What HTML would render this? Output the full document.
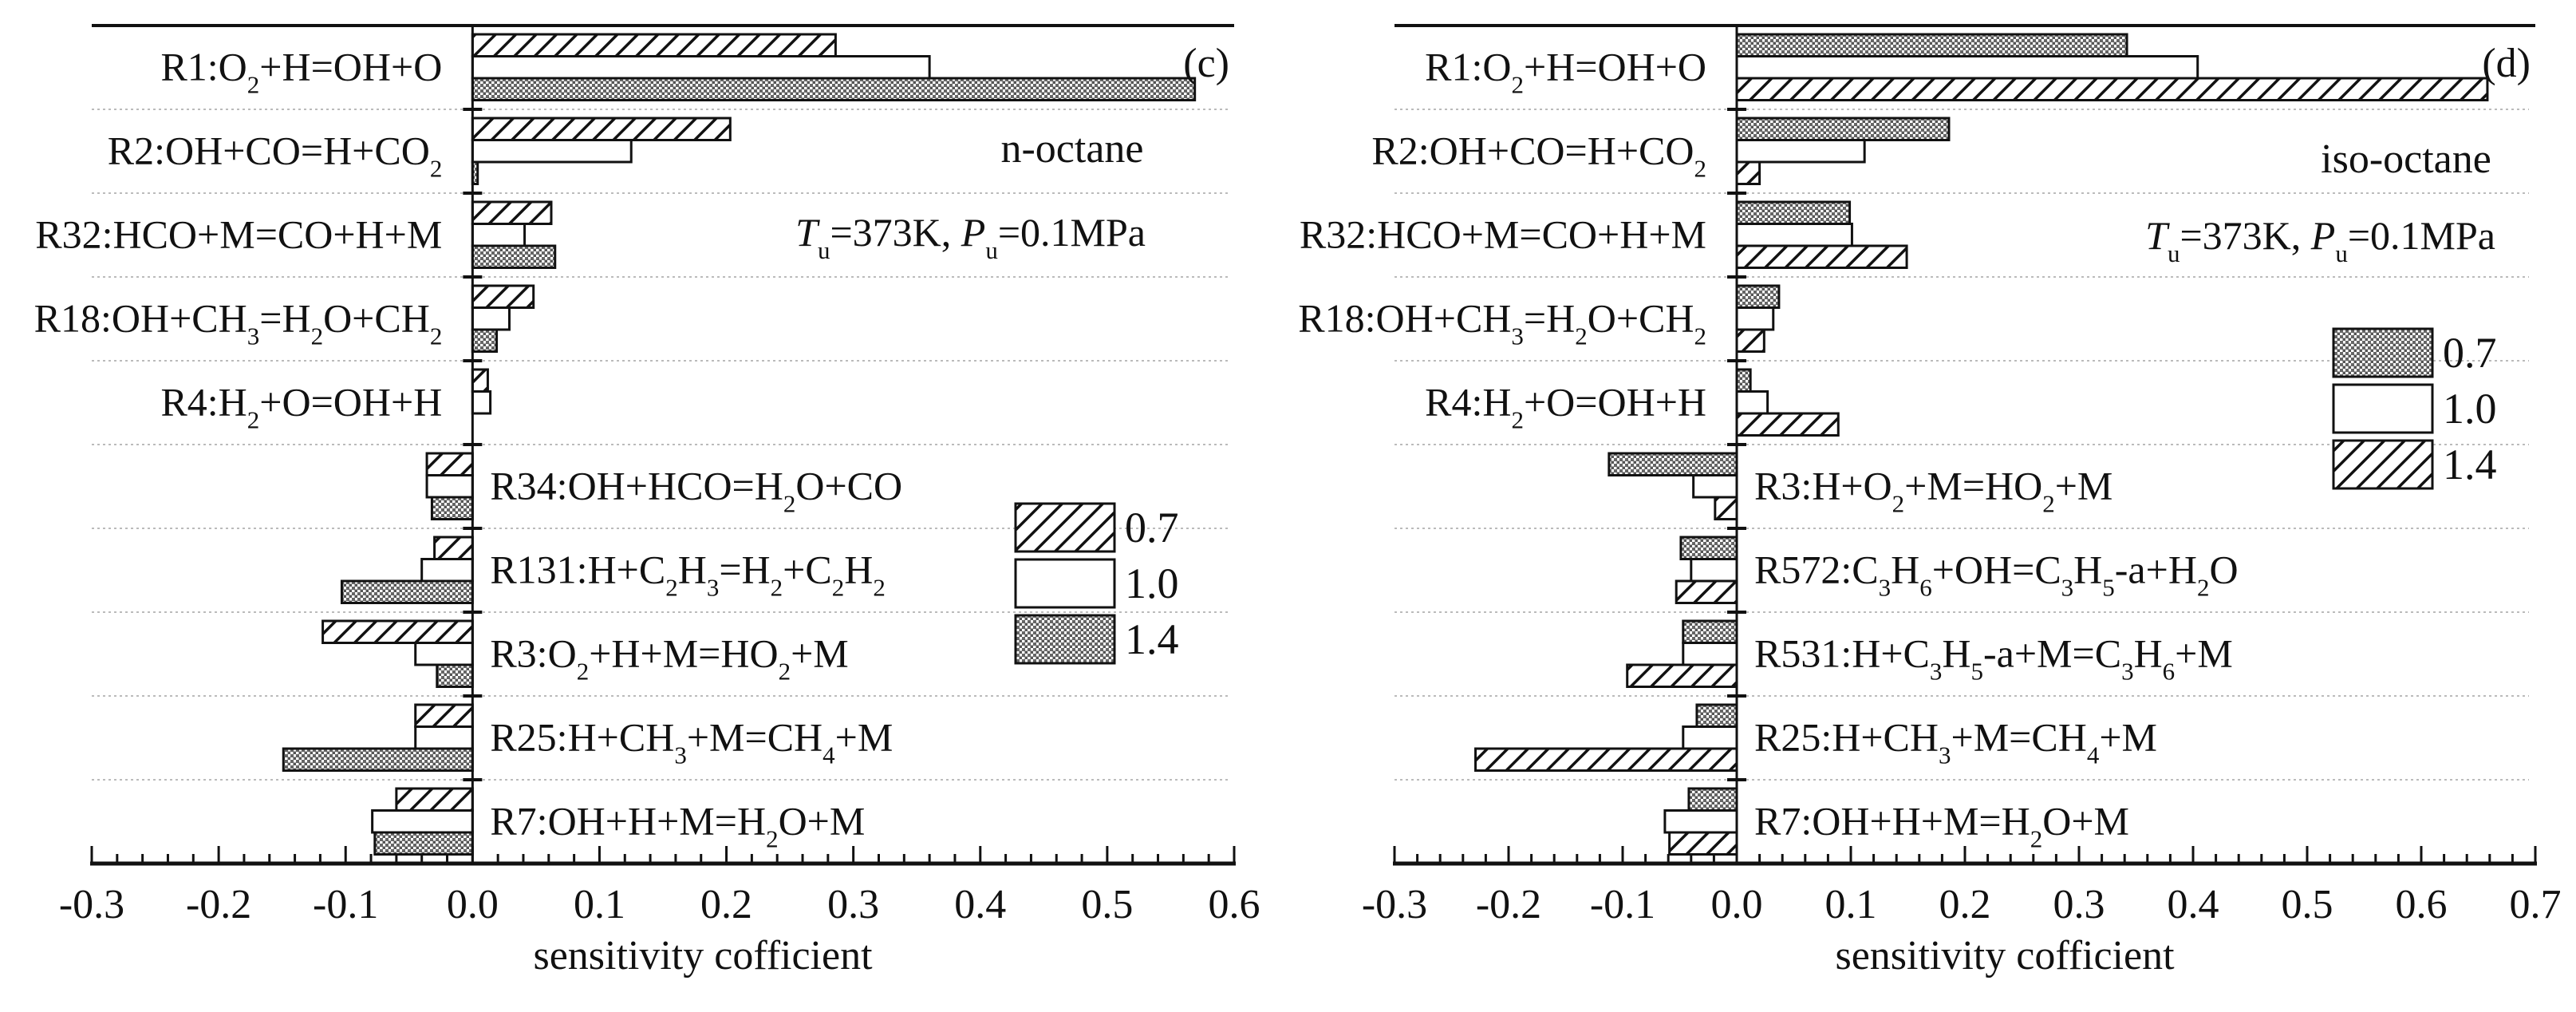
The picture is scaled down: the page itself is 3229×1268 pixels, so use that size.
<!DOCTYPE html>
<html><head><meta charset="utf-8">
<style>
html,body{margin:0;padding:0;background:#fff;}
svg{display:block;}
text{font-family:"Liberation Serif",serif;fill:#111;}
</style></head>
<body>
<svg id="chart" width="3229" height="1268" viewBox="0 0 3229 1268" xmlns="http://www.w3.org/2000/svg">
<defs>
<pattern id="hatch" patternUnits="userSpaceOnUse" width="18" height="18" patternTransform="rotate(45)">
<rect width="18" height="18" fill="#fff"/>
<line x1="0" y1="0" x2="0" y2="18" stroke="#111" stroke-width="7"/>
</pattern>
<pattern id="cross" patternUnits="userSpaceOnUse" width="7" height="7">
<rect width="7" height="7" fill="#fff"/>
<rect x="0" y="0" width="4" height="4" fill="#666"/>
<rect x="3.5" y="3.5" width="3.5" height="3.5" fill="#555"/>
</pattern>
</defs>
<g id="left-panel"></g>
<g id="right-panel"></g>
</svg>
<script>
// ---- Panel (c) n-octane data ----
const cLabels = [
 ["R1:O",["2"],"+H=OH+O"],
 ["R2:OH+CO=H+CO",["2"]],
 ["R32:HCO+M=CO+H+M"],
 ["R18:OH+CH",["3"],"=H",["2"],"O+CH",["2"]],
 ["R4:H",["2"],"+O=OH+H"],
 ["R34:OH+HCO=H",["2"],"O+CO"],
 ["R131:H+C",["2"],"H",["3"],"=H",["2"],"+C",["2"],"H",["2"]],
 ["R3:O",["2"],"+H+M=HO",["2"],"+M"],
 ["R25:H+CH",["3"],"+M=CH",["4"],"+M"],
 ["R7:OH+H+M=H",["2"],"O+M"]
];
const cPhi07 = [0.286, 0.203, 0.062, 0.048, 0.012, -0.036, -0.030, -0.118, -0.045, -0.060];
const cPhi10 = [0.360, 0.125, 0.041, 0.029, 0.014, -0.036, -0.040, -0.045, -0.045, -0.079];
const cPhi14 = [0.569, 0.004, 0.065, 0.019, 0.000, -0.032, -0.103, -0.028, -0.149, -0.077];
const cTicks = ["-0.3","-0.2","-0.1","0.0","0.1","0.2","0.3","0.4","0.5","0.6"];

// ---- Panel (d) iso-octane data ----
const dLabels = [
 ["R1:O",["2"],"+H=OH+O"],
 ["R2:OH+CO=H+CO",["2"]],
 ["R32:HCO+M=CO+H+M"],
 ["R18:OH+CH",["3"],"=H",["2"],"O+CH",["2"]],
 ["R4:H",["2"],"+O=OH+H"],
 ["R3:H+O",["2"],"+M=HO",["2"],"+M"],
 ["R572:C",["3"],"H",["6"],"+OH=C",["3"],"H",["5"],"-a+H",["2"],"O"],
 ["R531:H+C",["3"],"H",["5"],"-a+M=C",["3"],"H",["6"],"+M"],
 ["R25:H+CH",["3"],"+M=CH",["4"],"+M"],
 ["R7:OH+H+M=H",["2"],"O+M"]
];
const dPhi07 = [0.342, 0.186, 0.099, 0.037, 0.012, -0.112, -0.049, -0.047, -0.035, -0.042];
const dPhi10 = [0.404, 0.112, 0.101, 0.032, 0.027, -0.038, -0.040, -0.047, -0.047, -0.063];
const dPhi14 = [0.658, 0.020, 0.149, 0.024, 0.089, -0.019, -0.053, -0.096, -0.229, -0.059];
const dTicks = ["-0.3","-0.2","-0.1","0.0","0.1","0.2","0.3","0.4","0.5","0.6","0.7"];

const NS = "http://www.w3.org/2000/svg";
function mk(tag, attrs, parent){
  const e = document.createElementNS(NS, tag);
  for (const k in attrs) e.setAttribute(k, attrs[k]);
  parent.appendChild(e);
  return e;
}
function richText(parent, parts, x, y, anchor, size){
  const t = mk("text", {x:x, y:y, "text-anchor":anchor, "font-size":size}, parent);
  for (const p of parts){
    const s = document.createElementNS(NS, "tspan");
    if (Array.isArray(p)){
      s.textContent = p[0];
      s.setAttribute("font-size", size*0.62);
      s.setAttribute("dy", size*0.32);
    } else {
      s.textContent = p;
      if (t.childNodes.length && t.lastChild.getAttribute("dy")) s.setAttribute("dy", -size*0.32);
    }
    t.appendChild(s);
  }
  return t;
}

function drawPanel(g, cfg){
  const top = 32, bottom = 1082, n = cfg.labels.length;
  const band = (bottom - top) / n;
  const xs = v => cfg.x0 + (v - cfg.vmin) / (cfg.vmax - cfg.vmin) * (cfg.x1 - cfg.x0);
  const zero = xs(0);
  // top line
  const tl = mk("line", {x1:cfg.x0, y1:top, x2:cfg.x1, y2:top, stroke:"#111", "stroke-width":4}, g);
  
  
  // separators
  for (let i = 1; i < n; i++){
    const y = top + i*band;
    const s = mk("line", {x1:cfg.x0, y1:y, x2:cfg.x1-8, y2:y, stroke:"#bbb", "stroke-width":2, "stroke-dasharray":"3 4"}, g);
    
    
    const tk = mk("line", {x1:zero-12, y1:y, x2:zero+12, y2:y, stroke:"#111", "stroke-width":4}, g);
    
    
  }
  // bars
  const series = [cfg.s07, cfg.s10, cfg.s14];
  const fills = cfg.fills;
  const names = ["phi-0.7","phi-1.0","phi-1.4"];
  for (let i = 0; i < n; i++){
    const yb = top + i*band + 11;
    for (let k = 0; k < 3; k++){
      const v = series[k][i];
      if (Math.abs(v) < 1e-6) continue;
      const xa = Math.min(zero, xs(v)), w = Math.abs(xs(v) - zero);
      const r = mk("rect", {x:xa, y:yb + k*27.5, width:w, height:27.5, fill:fills[k], stroke:"#111", "stroke-width":3}, g);
      
      
    }
    // label
    const cy = top + i*band + band/2 + 16;
    const neg = cfg.s10[i] < 0;
    const lt = richText(g, cfg.labels[i], neg ? zero + 22 : zero - 38, cy, neg ? "start" : "end", 50);
    
    
  }
  // zero axis
  const za = mk("line", {x1:zero, y1:top, x2:zero, y2:bottom, stroke:"#111", "stroke-width":3}, g);
  
  
  // x axis
  const xa = mk("line", {x1:cfg.x0-2, y1:bottom, x2:cfg.x1+2, y2:bottom, stroke:"#111", "stroke-width":5}, g);
  
  
  const nMinor = Math.round((cfg.vmax - cfg.vmin) / 0.02);
  for (let j = 0; j <= nMinor; j++){
    const x = cfg.x0 + j*(cfg.x1 - cfg.x0)/nMinor;
    const major = j % 5 === 0;
    const t = mk("line", {x1:x, y1:bottom, x2:x, y2:bottom - (major ? 22 : 12), stroke:"#111", "stroke-width":3}, g);
    
    
  }
  cfg.ticks.forEach((lab) => {
    const v = parseFloat(lab);
    const t = mk("text", {x:xs(v), y:1150, "text-anchor":"middle", "font-size":52}, g);
    t.textContent = lab;
    
    
  });
  const xt = mk("text", {x:(cfg.x0+cfg.x1)/2 + 50, y:1214, "text-anchor":"middle", "font-size":52}, g);
  xt.textContent = "sensitivity cofficient";
  
  
  // annotations
  const pl = mk("text", {x:cfg.x1 - 6, y:96, "text-anchor":"end", "font-size":52}, g);
  pl.textContent = cfg.panel;
  
  
  const fu = mk("text", {x:cfg.fuelX, y:cfg.fuelY, "text-anchor":"middle", "font-size":52}, g);
  fu.textContent = cfg.fuel;
  
  
  const cond = mk("text", {x:cfg.condX, y:cfg.condY, "text-anchor":"end", "font-size":50}, g);
  cond.innerHTML = '<tspan font-style="italic">T</tspan><tspan font-size="31" dy="16">u</tspan><tspan dy="-16">=373K, </tspan><tspan font-style="italic">P</tspan><tspan font-size="31" dy="16">u</tspan><tspan dy="-16">=0.1MPa</tspan>';
  
  
  // legend
  const legLabels = cfg.legendLabels;
  for (let k = 0; k < 3; k++){
    const y = cfg.legY + k*70;
    const r = mk("rect", {x:cfg.legX, y:y, width:124, height:60, fill:cfg.legFills[k], stroke:"#111", "stroke-width":3}, g);
    
    
    const t = mk("text", {x:cfg.legX + 137, y:y + 48, "font-size":54}, g);
    t.textContent = legLabels[k];
    
    
  }
}

drawPanel(document.getElementById("left-panel"), {
  labels:cLabels, s07:cPhi07, s10:cPhi10, s14:cPhi14, ticks:cTicks,
  x0:115, x1:1547, vmin:-0.3, vmax:0.6,
  fills:["url(#hatch)","#fff","url(#cross)"],
  panel:"(c)", fuel:"n-octane", fuelX:1344, fuelY:203, condX:1436, condY:308,
  legX:1273, legY:631, legFills:["url(#hatch)","#fff","url(#cross)"], legendLabels:["0.7","1.0","1.4"]
});
drawPanel(document.getElementById("right-panel"), {
  labels:dLabels, s07:dPhi07, s10:dPhi10, s14:dPhi14, ticks:dTicks,
  x0:1748, x1:3178, vmin:-0.3, vmax:0.7,
  fills:["url(#cross)","#fff","url(#hatch)"],
  panel:"(d)", fuel:"iso-octane", fuelX:3016, fuelY:216, condX:3128, condY:312,
  legX:2925, legY:412, legFills:["url(#cross)","#fff","url(#hatch)"], legendLabels:["0.7","1.0","1.4"]
});
</script>
</body></html>
